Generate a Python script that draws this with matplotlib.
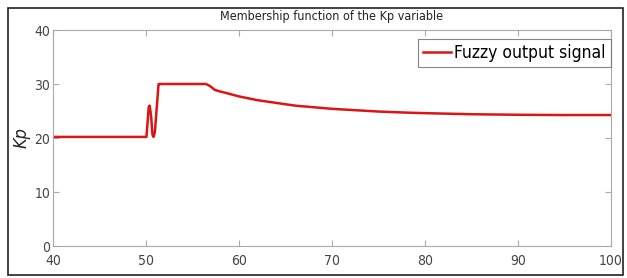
import matplotlib
matplotlib.use("Agg")
import matplotlib.pyplot as plt
from matplotlib.patches import Rectangle

# Data
t = [40, 50.05, 50.15, 50.3, 50.4, 50.55, 50.7, 50.8, 50.95, 51.35, 51.5, 56.45,
     56.9, 57.4, 58.0, 58.7, 60, 61, 62, 64, 66, 68, 70, 72, 75, 78, 80, 85, 90, 95, 100]
kp = [20.2, 20.2, 22.5, 25.8, 26.0, 24.0, 20.6, 20.2, 21.0, 30.0, 30.0, 30.0,
      29.6, 28.9, 28.6, 28.3, 27.7, 27.35, 27.0, 26.5, 26.0, 25.7, 25.4, 25.2, 24.9, 24.7, 24.6, 24.4, 24.3, 24.25, 24.25]
xticks = [40, 50, 60, 70, 80, 90, 100]
yticks = [0, 10, 20, 30, 40]

plt.rcParams['font.family'] = ['DejaVu Sans']
plt.rcParams['font.stretch'] = 'condensed'

W, H = 627, 278
fig = plt.figure(figsize=(W/100, H/100), dpi=100)
fig.patches.append(Rectangle((8/W, 3/H), 615/W, 267/H, transform=fig.transFigure,
                             fill=False, edgecolor='#222222', linewidth=1.2))
ax = fig.add_axes([53/W, 32/H, 558/W, 216/H])
ax.plot(t, kp, color='#dc1414', linewidth=1.8, label='Fuzzy output signal')
ax.set_xlim(40, 100)
ax.set_ylim(0, 40)
ax.set_xticks(xticks)
ax.set_yticks(yticks)
for s in ax.spines.values():
    s.set_color('#aaaaaa')
    s.set_linewidth(0.8)
ax.tick_params(direction='in', top=True, right=True, colors='#aaaaaa', length=4,
               labelcolor='#444444', labelsize=10)
ax.tick_params(axis='x', pad=5.5)
ax.tick_params(axis='y', pad=2)
ax.set_title('Membership function of the Kp variable', fontsize=9, color='#222222', pad=7)
ax.set_ylabel('Kp', fontsize=13, style='italic', color='#222222', labelpad=3)
leg = ax.legend(loc='upper right', bbox_to_anchor=(1.0, 0.96), fontsize=12.5,
                frameon=True, fancybox=False,
                handlelength=1.6, handletextpad=0.2, borderpad=0.3,
                borderaxespad=0.0)
leg.get_frame().set_edgecolor('#666666')
leg.get_frame().set_linewidth(0.8)
fig.savefig('out.png', dpi=100)
